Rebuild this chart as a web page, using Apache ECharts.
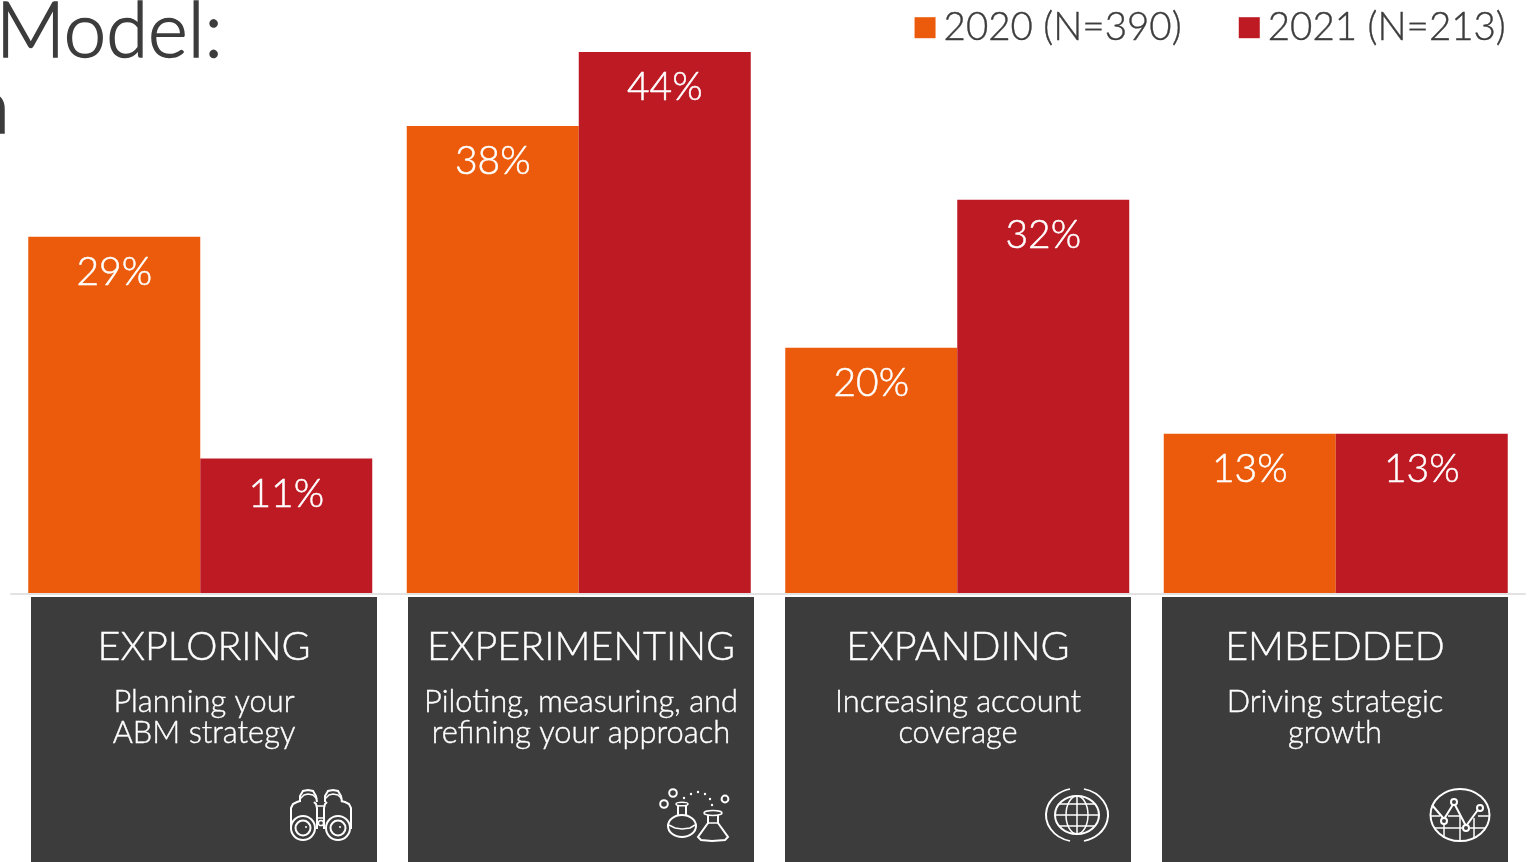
<!DOCTYPE html>
<html>
<head>
<meta charset="utf-8">
<style>html,body{margin:0;padding:0;background:#fff;overflow:hidden}#chart{width:1534px;height:862px}</style>
<script src="https://cdn.jsdelivr.net/npm/echarts@6/dist/echarts.min.js"></script>
</head>
<body>
<div id="chart"></div>
<script>
const stages = ['EXPLORING', 'EXPERIMENTING', 'EXPANDING', 'EMBEDDED'];
const stageNotes = [
  ['Planning your', 'ABM strategy'],
  ['Piloting, measuring, and', 'refining your approach'],
  ['Increasing account', 'coverage'],
  ['Driving strategic', 'growth']
];
const values2020 = [29, 38, 20, 13];
const values2021 = [11, 44, 32, 13];
const seriesNames = ['2020 (N=390)', '2021 (N=213)'];

const FONT = 'Lato';
const ORANGE = '#EC5B0B';
const RED = '#BD1A24';
const PANEL = '#3C3C3C';

const line = { stroke: '#fff', fill: null, lineWidth: 2 };
const thin = { stroke: '#fff', fill: null, lineWidth: 1.5 };
const dot = { fill: '#fff', stroke: null };

const circle = (cx, cy, r, style = line) => ({ type: 'circle', shape: { cx, cy, r }, style, z: 5 });
const ellipse = (cx, cy, rx, ry, style = line) => ({ type: 'ellipse', shape: { cx, cy, rx, ry }, style, z: 5 });
const poly = (points, style = line, smooth = 0) => ({ type: 'polyline', shape: { points, smooth }, style, z: 5 });
const arc = (cx, cy, r, a, b, scaleY, style = line) => ({
  type: 'arc', shape: { cx, cy, r, startAngle: a * Math.PI / 180, endAngle: b * Math.PI / 180, clockwise: true },
  originX: cx, originY: cy, scaleY, style, z: 5
});

// Binoculars on the first panel
const binoculars = [
  circle(303, 828, 12), circle(303, 828, 7.5), circle(306, 827, 1, dot),
  circle(338, 828, 12), circle(338, 828, 7.5), circle(340, 827, 1, dot),
  poly([[291, 829], [291, 808], [293, 804], [297, 802], [300, 801]]),
  poly([[317, 829], [317, 808], [316, 804], [314, 802]]),
  poly([[351, 829], [351, 808], [349, 804], [345, 802], [341, 801]]),
  poly([[324, 829], [324, 808], [325, 804], [327, 802]]),
  poly([[300, 802], [300, 796], [303, 791], [308, 790], [313, 791], [316, 796], [317, 802]], line),
  poly([[325, 802], [325, 796], [328, 791], [333, 790], [338, 791], [341, 796], [342, 802]], line),
  poly([[300, 799], [304, 795], [308, 794], [313, 795], [317, 799]], thin),
  poly([[325, 799], [329, 795], [333, 794], [338, 795], [342, 799]], thin),
  poly([[317, 806], [324, 806]], thin), poly([[317, 818], [324, 818]], thin),
  circle(321, 823, 2.6, thin)
];

// Flasks and bubbles on the second panel
const flasks = [
  circle(673, 793, 3.8), circle(664, 804, 3.8), circle(725, 799, 3.4),
  circle(684, 798, 1.2, dot), circle(691, 794, 1.2, dot), circle(698, 792, 1.2, dot),
  circle(705, 794, 1.2, dot), circle(710, 799, 1.2, dot), circle(712, 805, 1.2, dot),
  ellipse(682, 804, 6, 1.8, thin),
  poly([[678, 806], [678, 815]]), poly([[686, 806], [686, 815]]),
  ellipse(682, 826, 14, 11), poly([[669, 825], [675, 828], [682, 829], [690, 828], [695, 825]], thin),
  ellipse(713, 813, 9, 2.4, thin),
  poly([[708, 815], [708, 823], [698, 837], [701, 840], [712, 841], [725, 840], [728, 837], [718, 823], [718, 815]]),
  poly([[708, 823], [718, 823]], thin)
];

// Globe with orbit arcs on the third panel
const globe = [
  ellipse(1077, 815, 22, 19), ellipse(1077, 815, 11, 19, thin),
  poly([[1077, 796], [1077, 834]], thin), poly([[1055, 815], [1099, 815]], thin),
  poly([[1059, 804], [1095, 804]], thin), poly([[1059, 826], [1095, 826]], thin),
  arc(1077, 815, 31, 103, 257, 0.86), arc(1077, 815, 31, -77, 77, 0.86)
];

// Circled trend line on the fourth panel
const trend = [
  ellipse(1460, 815, 29.5, 26),
  poly([[1432, 805], [1444, 819], [1454, 803], [1466, 826], [1480, 807]]),
  poly([[1431, 816], [1440, 816]], thin), poly([[1448, 816], [1460, 816]], thin), poly([[1478, 816], [1489, 816]], thin),
  poly([[1435, 828], [1462, 828]], thin), poly([[1470, 828], [1485, 828]], thin),
  poly([[1444, 824], [1444, 838]], thin), poly([[1460, 816], [1460, 841]], thin), poly([[1474, 818], [1474, 838]], thin),
  circle(1444, 821, 3, { stroke: '#fff', fill: PANEL, lineWidth: 2 }),
  circle(1454, 802, 3, { stroke: '#fff', fill: PANEL, lineWidth: 2 }),
  circle(1466, 828, 3, { stroke: '#fff', fill: PANEL, lineWidth: 2 }),
  circle(1480, 808, 3, { stroke: '#fff', fill: PANEL, lineWidth: 2 })
];

const panels = [31, 408, 785, 1162].map(x => ({
  type: 'rect', shape: { x, y: 597, width: 346, height: 265 }, style: { fill: PANEL }, z: 0
}));

const headline = [
  { text: 'Model:', x: -4, y: -6 },
  { text: 'n', x: -32, y: 70 }
].map(t => ({
  type: 'text', x: t.x, y: t.y, z: 5,
  style: { text: t.text, fill: '#3C3C3C', stroke: '#3C3C3C', lineWidth: 1.5, font: `300 76px ${FONT}` }
}));

const chart = echarts.init(document.getElementById('chart'), null, { renderer: 'canvas' });

const barLabel = {
  show: true, position: 'insideTop', distance: 16, color: '#fff',
  fontFamily: FONT, fontWeight: 300, fontSize: 39, formatter: '{c}%',
  textBorderColor: '#fff', textBorderWidth: 0.5
};
const panelText = { fontFamily: FONT, fontWeight: 300, color: '#fff', align: 'center', textBorderColor: '#fff', textBorderWidth: 0.4 };

chart.setOption({
  animation: false,
  backgroundColor: '#fff',
  grid: [
    { left: 11, right: 9, top: 52, bottom: 268 },
    // The stage captions sit on the panels, which are spaced a little differently from the bars
    { left: 15.5, right: 10.5, top: 590, bottom: 265 }
  ],
  legend: {
    right: 23, top: 3, itemWidth: 21, itemHeight: 21, itemGap: 57, icon: 'rect',
    data: seriesNames,
    textStyle: {
      fontFamily: FONT, fontWeight: 300, fontSize: 38.5, color: '#3C3C3C', padding: [0, 0, 0, 3],
      textBorderColor: '#3C3C3C', textBorderWidth: 0.4
    }
  },
  xAxis: [
    {
      type: 'category',
      data: stages,
      axisTick: { show: false },
      axisLabel: { show: false },
      axisLine: { lineStyle: { color: '#E2E2E2', width: 2 } },
      z: 3
    },
    {
      type: 'category',
      gridIndex: 1,
      data: stages,
      axisTick: { show: false },
      axisLine: { show: false },
      z: 6,
      axisLabel: {
        interval: 0, margin: 26,
        formatter: (name, i) => `{t|${name}}\n{g|}\n{d|${stageNotes[i][0]}}\n{d|${stageNotes[i][1]}}`,
        rich: {
          t: { ...panelText, fontSize: 39.5, lineHeight: 48 },
          g: { height: 16, lineHeight: 16 },
          d: { ...panelText, fontSize: 30.8, lineHeight: 31 }
        }
      }
    }
  ],
  yAxis: [
    { type: 'value', min: 0, max: 44, show: false, splitLine: { show: false } },
    { type: 'value', gridIndex: 1, min: 0, max: 1, show: false, splitLine: { show: false } }
  ],
  series: [
    { name: seriesNames[0], type: 'bar', data: values2020, barWidth: 172, barGap: 0, itemStyle: { color: ORANGE }, label: barLabel },
    { name: seriesNames[1], type: 'bar', data: values2021, barWidth: 172, barGap: 0, itemStyle: { color: RED }, label: barLabel }
  ],
  graphic: { elements: [...panels, ...headline, ...binoculars, ...flasks, ...globe, ...trend] }
});
</script>
</body>
</html>
